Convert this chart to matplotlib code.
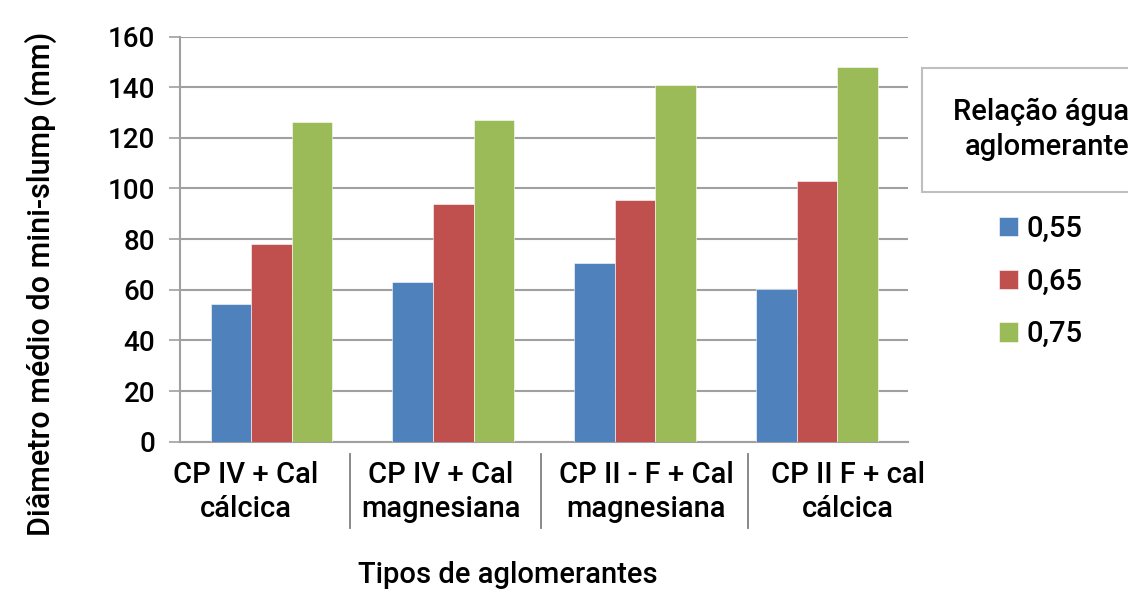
import matplotlib.pyplot as plt
import numpy as np

plt.rcParams['font.family'] = ['Roboto', 'DejaVu Sans']
plt.rcParams['font.weight'] = 'medium'
plt.rcParams['axes.labelweight'] = 'medium'

# mini-slump diameter (mm) per binder type and water/binder ratio
tipos = ["CP IV + Cal\ncálcica", "CP IV + Cal\nmagnesiana",
         "CP II - F + Cal\nmagnesiana", "CP II F + cal\ncálcica"]
relacoes = ["0,55", "0,65", "0,75"]
d_055 = [54.5, 63.0, 70.5, 60.3]
d_065 = [78.0, 93.8, 95.3, 103.0]
d_075 = [126.2, 127.0, 140.7, 148.0]
cores = ["#4F81BD", "#C0504D", "#9BBB59"]

# label centres / separators in category units
label_x = [-0.14, 0.93, 2.06, 3.17]
sep_x = [0.43, 1.48, 2.62]

fig = plt.figure(figsize=(11.28, 5.89), dpi=100)
ax = fig.add_axes([0.16, 0.25, 0.645, 0.688])

x = np.arange(len(tipos))
w = 0.223
for i, vals in enumerate([d_055, d_065, d_075]):
    ax.bar(x + (i - 1) * w, vals, width=w, color=cores[i], label=relacoes[i],
           edgecolor="white", linewidth=0.4, zorder=3)

ax.set_xlim(-0.5, 3.5)
ax.set_ylim(0, 160)
ax.set_yticks(range(0, 161, 20))
ax.grid(axis="y", color="#a0a0a0", linewidth=1.5, zorder=0)
ax.tick_params(axis="y", length=8, width=1.2, color="#a0a0a0", labelsize=20, pad=10)
ax.tick_params(axis="x", length=0, labelbottom=False)
for s in ["top", "right"]:
    ax.spines[s].set_visible(False)
for s in ["left", "bottom"]:
    ax.spines[s].set_color("#a0a0a0")
    ax.spines[s].set_linewidth(1.5)

for xl, t in zip(label_x, tipos):
    ax.text(xl, -7.5, t, ha="center", va="top", fontsize=21, linespacing=1.3)
for xs in sep_x:
    ax.plot([xs, xs], [-5, -34], color="#808080", linewidth=1.3, clip_on=False)

ax.set_ylabel("Diâmetro médio do mini-slump (mm)", fontsize=22)
ax.yaxis.set_label_coords(-0.17, 0.39)
ax.set_xlabel("Tipos de aglomerantes", fontsize=21)
ax.xaxis.set_label_coords(0.45, -0.295)

# legend title box, running off the right edge
fig.text(0.928, 0.78, "Relação água/\naglomerante", ha="center", va="center",
         fontsize=21, linespacing=1.3,
         bbox=dict(boxstyle="square,pad=1.05", facecolor="white", edgecolor="#bfbfbf",
                   linewidth=1.5))
leg = fig.legend(loc="upper left", bbox_to_anchor=(0.862, 0.68), frameon=False,
                 fontsize=21, handlelength=0.65, handleheight=0.65,
                 handletextpad=0.3, labelspacing=0.85)

fig.savefig("out.png", dpi=100)
